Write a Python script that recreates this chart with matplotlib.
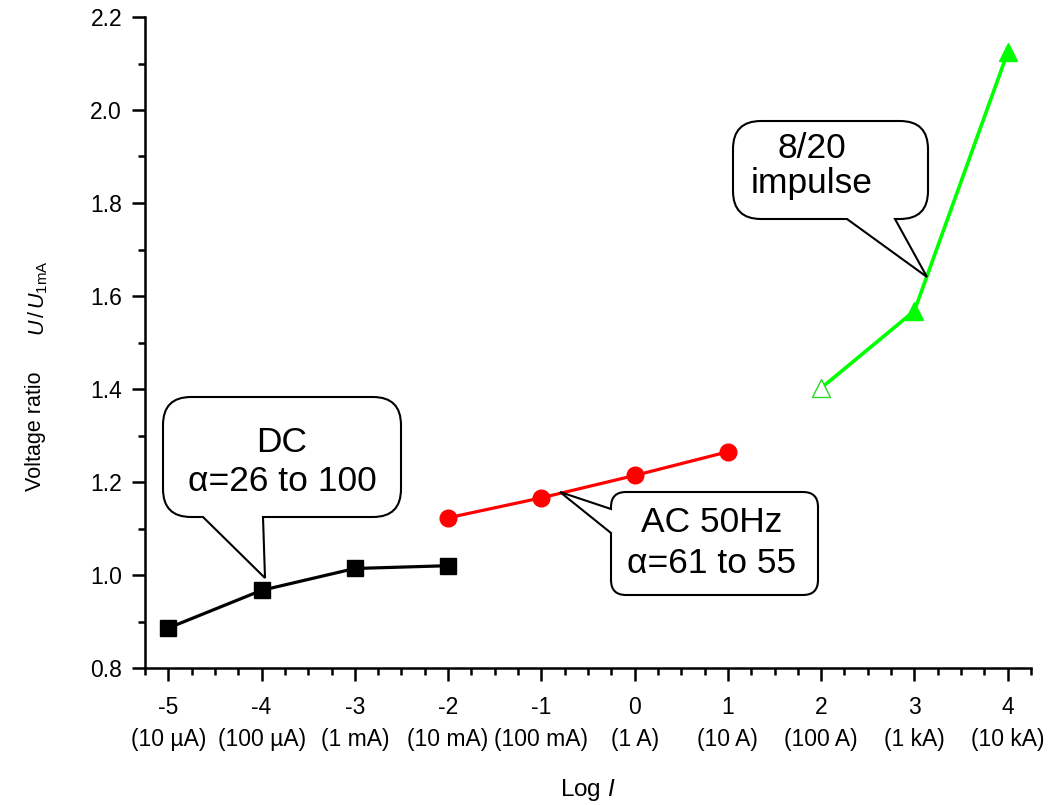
import matplotlib
matplotlib.use("Agg")
import matplotlib.pyplot as plt
from matplotlib.path import Path
from matplotlib.patches import PathPatch
from matplotlib.transforms import Affine2D
from matplotlib.ticker import MultipleLocator

plt.rcParams['font.family'] = ['Liberation Sans', 'DejaVu Sans']
plt.rcParams['mathtext.fontset'] = 'custom'
plt.rcParams['mathtext.rm'] = 'Liberation Sans'
plt.rcParams['mathtext.it'] = 'Liberation Sans:italic'

# data
dc_x = [-5, -4, -3, -2]
dc_y = [0.886, 0.967, 1.014, 1.020]
ac_x = [-2, -1, 0, 1]
ac_y = [1.123, 1.166, 1.214, 1.265]
imp_x = [2, 3, 4]
imp_y = [1.402, 1.568, 2.124]

tick_pos = [-5, -4, -3, -2, -1, 0, 1, 2, 3, 4]
tick_cur = ["10 \u00b5A", "100 \u00b5A", "1 mA", "10 mA", "100 mA",
            "1 A", "10 A", "100 A", "1 kA", "10 kA"]

W, H = 1064, 805
fig = plt.figure(figsize=(W / 100, H / 100), dpi=100)
ax = fig.add_axes([145 / W, 1 - 668 / H, (1031 - 145) / W, (668 - 17) / H])

ax.plot(dc_x, dc_y, color='black', lw=2.3, marker='s', ms=11.5, zorder=3)
ax.plot(ac_x, ac_y, color='#ff0000', lw=2.3, marker='o', ms=12, zorder=3)
ax.plot(imp_x, imp_y, color='#00ff00', lw=2.6, zorder=3)
ax.plot(imp_x[1:], imp_y[1:], ls='none', marker='^', ms=13, color='#00ff00', zorder=4)
ax.plot(imp_x[:1], imp_y[:1], ls='none', marker='^', ms=13, mfc='white',
        mec='#22dd22', mew=1.0, zorder=4)

ax.set_xlim(-5.25, 4.25)
ax.set_ylim(0.8, 2.2)
ax.spines['top'].set_visible(False)
ax.spines['right'].set_visible(False)
for s in ('left', 'bottom'):
    ax.spines[s].set_linewidth(1.8)

ax.set_xticks(tick_pos)
ax.set_xticklabels(["%d\n(%s)" % (p, c) for p, c in zip(tick_pos, tick_cur)])
ax.xaxis.set_minor_locator(MultipleLocator(0.25))
ax.yaxis.set_major_locator(MultipleLocator(0.2))
ax.yaxis.set_minor_locator(MultipleLocator(0.1))
ax.yaxis.set_major_formatter(plt.FormatStrFormatter('%.1f'))
ax.tick_params(which='major', direction='out', length=9.5, width=1.8, labelsize=16.5, pad=11)
ax.tick_params(which='minor', direction='out', length=5, width=1.8)
ax.tick_params(axis='y', which='major', pad=7)
for lab in ax.get_xticklabels():
    lab.set_linespacing(1.5)

fig.text(588 / W, 1 - 790 / H, r"Log $\mathit{I}$", ha='center', va='center', fontsize=17.5)
fig.text(36 / W, 1 - 431 / H, "Voltage ratio", rotation=90,
         ha='center', va='center', fontsize=15.5)
fig.text(38 / W, 1 - 298 / H, r"$\mathit{U}\,/\,\mathit{U}_{\mathrm{1mA}}$", rotation=90,
         ha='center', va='center', fontsize=15.5)

# pixel coords (y down) -> figure
pix = Affine2D().scale(1 / 100, -1 / 100).translate(0, H / 100) + fig.dpi_scale_trans


def bubble(l, t, r, b, rad, side, a, c, tip):
    M, L, C = Path.MOVETO, Path.LINETO, Path.CURVE3
    v = [(l + rad, t), (r - rad, t), (r, t), (r, t + rad), (r, b - rad), (r, b), (r - rad, b)]
    k = [M, L, C, C, L, C, C]
    if side == 'bottom':
        v += [(max(a, c), b), tip, (min(a, c), b)]
        k += [L, L, L]
    v += [(l + rad, b), (l, b), (l, b - rad)]
    k += [L, C, C]
    if side == 'left':
        v += [(l, max(a, c)), tip, (l, min(a, c))]
        k += [L, L, L]
    v += [(l, t + rad), (l, t), (l + rad, t), (l + rad, t)]
    k += [L, C, C, Path.CLOSEPOLY]
    p = PathPatch(Path(v, k), transform=pix, facecolor='white', edgecolor='black',
                  lw=1.5, zorder=5)
    fig.add_artist(p)


bubble(163, 397, 401, 517, 28, 'bottom', 203, 263, (265, 578))
fig.text(282 / W, 1 - 462 / H, "DC\n\u03b1=26 to 100",
         ha='center', va='center', fontsize=25.5, linespacing=1.25, zorder=6)

bubble(611, 492, 818, 595, 15, 'left', 509, 533, (560, 492))
fig.text(712 / W, 1 - 543 / H, "AC 50Hz\n\u03b1=61 to 55",
         ha='center', va='center', fontsize=25.5, linespacing=1.3, zorder=6)

bubble(733, 121, 928, 219, 28, 'bottom', 847, 895, (927, 277))
fig.text(812 / W, 1 - 166 / H, "8/20\nimpulse",
         ha='center', va='center', fontsize=25.5, linespacing=1.1, zorder=6)

fig.savefig("out.png", dpi=100)
